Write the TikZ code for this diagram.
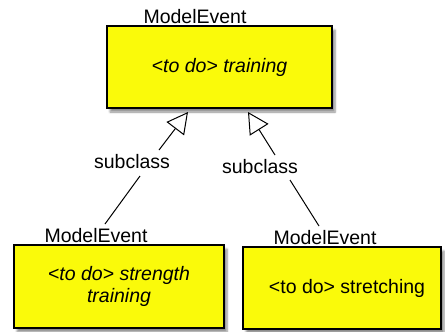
\documentclass[tikz,border=0pt]{standalone}
\usepackage{fontspec}
\setmainfont{Liberation Sans}
\usetikzlibrary{arrows.meta,shadows.blur}
\definecolor{boxyellow}{RGB}{250,250,10}
\begin{document}
\begin{tikzpicture}[x=1pt,y=-1pt,
  font=\fontsize{19.5}{22}\selectfont,
  classbox/.style={draw=black,line width=1.3pt,fill=boxyellow,
    blur shadow={shadow xshift=3pt,shadow yshift=-4pt,shadow blur steps=6,shadow opacity=45},
    inner sep=0pt},
  lbl/.style={inner sep=0pt},
  gen/.style={line width=1pt,-{Triangle[open,length=21pt,width=22pt,line width=1pt]}},
  plain/.style={line width=1pt}]
\useasboundingbox (0,0) rectangle (445,332);
% parent
\node[classbox,minimum width=225pt,minimum height=82pt] (top) at (219.5,67) {};
\node[lbl] (toptext) at (219.5,67) {\itshape <to do> training};
\node[lbl] (toplbl) at (195,17) {ModelEvent};
% left child
\node[classbox,minimum width=210pt,minimum height=83pt] (left) at (119,286.5) {};
\node[lbl,align=center,font=\fontsize{19.5}{22}\selectfont\itshape] (lefttext) at (119,286) {<to do> strength\\training};
\node[lbl] (leftlbl) at (96,236) {ModelEvent};
% right child
\node[classbox,minimum width=198pt,minimum height=82pt] (right) at (342,288) {};
\node[lbl] (righttext) at (347,288) {<to do> stretching};
\node[lbl] (rightlbl) at (325,238) {ModelEvent};
% subclass labels
\node[lbl] (sub1) at (132,162) {subclass};
\node[lbl] (sub2) at (260,167) {subclass};
% connector ends
\coordinate (l1) at (105,224);
\coordinate (l2) at (140,176);
\coordinate (l3) at (159,150);
\coordinate (l4) at (188,112);
\coordinate (r1) at (319,226);
\coordinate (r2) at (290,180);
\coordinate (r3) at (275,155);
\coordinate (r4) at (248,112);
\draw[plain] (l1) -- (l2);
\draw[gen] (l3) -- (l4);
\draw[plain] (r1) -- (r2);
\draw[gen] (r3) -- (r4);
\end{tikzpicture}
\end{document}
